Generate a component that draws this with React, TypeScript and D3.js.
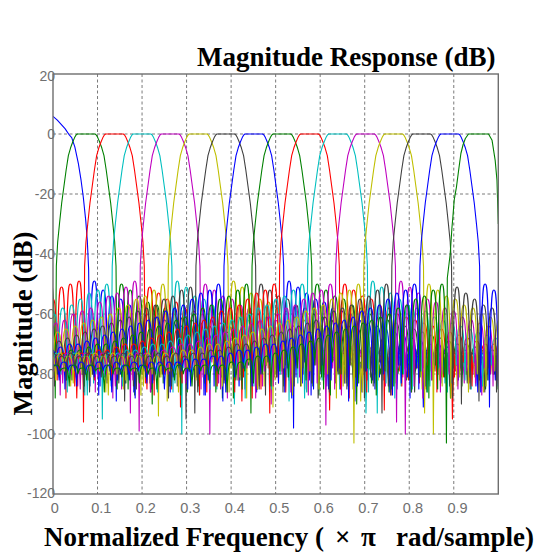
import React from 'react';
import * as d3 from 'd3';

const W = 535;
const H = 552;

// axis ticks
const xTickValues = [0, 0.1, 0.2, 0.3, 0.4, 0.5, 0.6, 0.7, 0.8, 0.9];
const xTickLabels = ['0', '0.1', '0.2', '0.3', '0.4', '0.5', '0.6', '0.7', '0.8', '0.9'];
const yTickValues = [20, 0, -20, -40, -60, -80, -100, -120];
const xGridValues = [0.1, 0.2, 0.3, 0.4, 0.5, 0.6, 0.7, 0.8, 0.9];
const yGridValues = [0, -20, -40, -60, -80, -100];

// 16 bands of the filter bank (MATLAB colour order b g r c m y k)
const seriesColors = [
  '#0000ff', '#008000', '#ff0000', '#00bfbf', '#bf00bf', '#bfbf00', '#404040',
  '#0000ff', '#008000', '#ff0000', '#00bfbf', '#bf00bf', '#bfbf00', '#404040',
  '#0000ff', '#008000',
];
const bandCenters = [
  0.0135, 0.0745, 0.138, 0.2, 0.263, 0.326, 0.388, 0.451,
  0.514, 0.576, 0.639, 0.702, 0.765, 0.828, 0.891, 0.953,
];

// passband shape (offset from band centre, dB)
const mainLobeOffset = [0, 0.02, 0.023, 0.026, 0.03, 0.035, 0.04, 0.045, 0.05, 0.055, 0.06, 0.064, 0.067];
const mainLobeDb = [0, 0, -0.4, -1.2, -2.6, -4.6, -7.2, -12, -17.5, -23, -30, -36, -44];

// first band (starts at +6 dB at f = 0)
const firstBandF = [0, 0.0097, 0.027, 0.037, 0.042, 0.049, 0.057, 0.063, 0.068, 0.0735, 0.077, 0.08];
const firstBandDb = [5.9, 4.6, 1.8, -0.4, -1.2, -4.3, -9.9, -15.4, -21, -28.8, -35.4, -45];
// last band (drops at f = 1)
const lastBandF = [0.8855, 0.892, 0.896, 0.898, 0.901, 0.906, 0.911, 0.916, 0.921, 0.926, 0.933, 0.978, 0.986, 0.993, 0.997, 1.0];
const lastBandDb = [-48, -40, -31, -27.7, -22, -17.7, -12, -6.5, -3.5, -1.5, 0, 0, -2.1, -8.8, -15.4, -30];

// stopband lobes, read outward from each passband: [null0, peak0, null1, peak1, ...] (dB)
const NULL0 = 0.0695;
const LOBE = 0.0197;

const leftLobes: number[][] = [
  [],
  [-88, -50, -84, -53, -86, -55, -83, -57],
  [-96, -49, -84, -50, -88, -51, -82, -55, -86, -55, -80, -57, -84, -58],
  [-84, -50, -95, -52, -83, -53, -87, -55, -81, -57, -86, -58, -80, -60, -88, -61, -79, -62, -84, -63],
  [-99, -49, -93, -51, -85, -53, -88, -54, -81, -56, -86, -58, -79, -59, -84, -60, -80, -62, -87, -63, -78, -64, -83, -65, -77, -66],
  [-89, -50, -94, -52, -83, -54, -87, -55, -80, -57, -85, -58, -79, -60, -86, -61, -78, -62, -82, -63,
   -76, -64, -84, -65, -77, -66, -80, -67, -76, -68, -85, -69, -78, -70],
  [-93, -51, -95, -52, -84, -54, -88, -55, -81, -57, -86, -58, -80, -59, -84, -61, -89, -62, -79, -63,
   -83, -64, -77, -65, -86, -66, -78, -67, -82, -68, -77, -69, -84, -70, -78, -70, -81, -71, -85, -72],
  [-89, -50, -84, -52, -87, -53, -81, -55, -85, -57, -80, -58, -86, -59, -79, -61, -83, -62, -78, -63,
   -88, -64, -77, -65, -82, -66, -76, -67, -84, -68, -77, -69, -80, -70, -78, -70, -85, -71, -78, -72,
   -81, -72, -79, -73, -84, -73],
  [-93, -50, -85, -52, -88, -54, -81, -55, -86, -57, -80, -58, -84, -60, -79, -61, -87, -62, -78, -63,
   -83, -64, -77, -65, -81, -66, -76, -67, -85, -68, -77, -69, -82, -70, -78, -70, -80, -71, -84, -72,
   -79, -72, -82, -73, -80, -73, -86, -74, -80, -73, -83, -74],
  [-83, -50, -93, -52, -85, -53, -88, -55, -81, -57, -86, -58, -80, -59, -84, -61, -79, -62, -87, -63,
   -78, -64, -83, -65, -77, -66, -80, -67, -76, -68, -85, -69, -78, -70, -81, -70, -77, -71, -84, -72,
   -79, -72, -82, -73, -80, -73, -88, -74, -79, -73, -81, -74, -80, -73, -84, -74, -79, -73],
  [-86, -50, -83, -52, -89, -54, -80, -55, -85, -57, -79, -58, -84, -60, -88, -61, -78, -62, -82, -63,
   -77, -64, -85, -65, -76, -66, -81, -67, -78, -68, -83, -69, -77, -70, -86, -70, -78, -71, -80, -72,
   -79, -72, -84, -73, -78, -73, -81, -74, -80, -73, -87, -74, -79, -73, -82, -74, -80, -73, -83, -74,
   -79, -73, -81, -74],
  [-85, -50, -97, -52, -83, -53, -87, -55, -81, -57, -86, -58, -80, -60, -84, -61, -79, -62, -88, -63,
   -78, -64, -82, -65, -77, -66, -85, -67, -76, -68, -81, -69, -78, -70, -83, -70, -77, -71, -80, -72,
   -79, -72, -86, -73, -78, -73, -82, -74, -79, -73, -84, -74, -80, -73, -81, -74, -79, -73, -85, -74,
   -80, -73, -83, -74, -79, -73, -81, -74, -80, -73, -84, -74],
  [-86, -50, -103, -52, -83, -53, -88, -55, -80, -57, -85, -58, -79, -59, -84, -61, -87, -62, -78, -63,
   -82, -64, -77, -65, -85, -66, -76, -67, -81, -68, -78, -69, -84, -70, -77, -70, -80, -71, -82, -72,
   -78, -72, -86, -73, -79, -73, -81, -74, -80, -73, -84, -74, -79, -73, -82, -74, -80, -73, -87, -74,
   -79, -73, -81, -74, -80, -73, -83, -74, -79, -73, -82, -74, -80, -73, -85, -74, -80, -73],
  [-87, -50, -93, -52, -84, -54, -88, -55, -81, -57, -85, -58, -80, -59, -86, -61, -79, -62, -83, -63,
   -78, -64, -84, -65, -77, -66, -81, -67, -76, -68, -85, -69, -78, -70, -82, -70, -77, -71, -83, -72,
   -78, -72, -80, -73, -86, -73, -79, -74, -81, -73, -84, -74, -80, -73, -82, -74, -79, -73, -85, -74,
   -80, -73, -83, -74, -79, -73, -81, -74, -80, -73, -86, -74, -79, -73, -82, -74, -80, -73, -84, -74,
   -79, -73, -81, -74],
  [-85, -50, -88, -52, -83, -53, -87, -55, -80, -57, -85, -58, -79, -59, -84, -61, -89, -62, -78, -63,
   -82, -64, -77, -65, -85, -66, -76, -67, -81, -68, -78, -69, -83, -70, -77, -70, -80, -71, -84, -72,
   -78, -72, -81, -73, -86, -74, -79, -74, -82, -75, -80, -75, -84, -75, -79, -76, -81, -76, -85, -76,
   -80, -76, -83, -77, -79, -76, -82, -77, -80, -76, -86, -77, -79, -76, -81, -77, -80, -76, -84, -77,
   -79, -76, -82, -77, -80, -76, -83, -77, -79, -76],
  [-103, -50, -85, -52, -88, -54, -81, -55, -86, -57, -80, -58, -84, -60, -79, -61, -87, -62, -78, -63,
   -83, -64, -77, -65, -80, -66, -76, -67, -85, -68, -77, -69, -82, -70, -78, -71, -81, -72, -79, -73,
   -84, -74, -80, -74, -83, -75, -79, -76, -82, -76, -86, -77, -80, -77, -83, -77, -79, -77, -84, -78,
   -80, -77, -82, -78, -79, -77, -85, -78, -80, -77, -83, -78, -79, -77, -81, -78, -80, -77, -86, -78,
   -79, -77, -82, -78, -80, -77, -84, -78, -79, -77, -82, -78, -80, -77, -83, -78],
];

const rightLobes: number[][] = [
  [-84, -49, -87, -52, -82, -54, -89, -55, -83, -57, -86, -58, -80, -60, -85, -61, -79, -62, -84, -63,
   -72, -64, -82, -65, -74, -66, -87, -67, -75, -68, -81, -69, -76, -70, -84, -70, -77, -71, -86, -72,
   -78, -72, -80, -73, -79, -73, -88, -74, -79, -74, -82, -74, -79, -75, -84, -74, -79, -75, -83, -74,
   -80, -75, -86, -74, -79, -74, -81, -73, -78, -73, -85, -74, -78, -73, -80, -74, -91, -73, -78, -74,
   -83, -73, -77, -73, -82, -74, -77, -73, -84, -74, -78, -73, -80, -74, -78, -73, -82, -74, -79, -73],
  [-85, -50, -83, -52, -87, -54, -81, -56, -90, -57, -80, -58, -84, -60, -78, -61, -86, -62, -77, -63,
   -83, -64, -75, -65, -88, -66, -76, -67, -82, -68, -77, -69, -85, -70, -77, -70, -80, -71, -84, -72,
   -78, -73, -82, -73, -79, -74, -87, -75, -79, -75, -81, -76, -80, -76, -85, -76, -79, -77, -83, -76,
   -80, -77, -86, -76, -80, -77, -82, -76, -79, -77, -84, -76, -80, -77, -81, -76, -88, -77, -80, -76,
   -82, -77, -79, -76, -85, -77, -80, -76, -83, -77, -80, -76, -82, -77],
  [-83, -51, -87, -53, -80, -55, -85, -56, -91, -58, -79, -59, -83, -60, -86, -62, -78, -63, -82, -64,
   -76, -65, -89, -66, -77, -67, -84, -67, -78, -68, -81, -69, -86, -70, -78, -70, -80, -71, -83, -72,
   -77, -72, -92, -72, -78, -73, -81, -73, -79, -74, -84, -74, -78, -73, -80, -74, -87, -74, -79, -74,
   -82, -73, -78, -74, -85, -73, -79, -74, -81, -73, -95, -74, -79, -73, -83, -74, -78, -73, -80, -74,
   -82, -73, -79, -74, -84, -73, -80, -74],
  [-86, -49, -100, -51, -82, -54, -87, -55, -80, -57, -85, -59, -79, -60, -90, -61, -78, -62, -83, -63,
   -76, -64, -86, -65, -77, -66, -81, -67, -75, -68, -88, -69, -77, -69, -82, -70, -78, -71, -85, -72,
   -77, -72, -80, -72, -93, -73, -78, -73, -82, -74, -79, -73, -84, -74, -78, -73, -81, -74, -86, -73,
   -79, -74, -83, -73, -78, -74, -80, -73, -85, -74, -79, -73, -82, -74, -80, -73, -84, -74, -79, -73,
   -81, -74],
  [-85, -50, -100, -52, -83, -54, -88, -55, -80, -57, -85, -58, -79, -60, -84, -61, -90, -62, -78, -63,
   -82, -64, -76, -65, -85, -66, -77, -67, -81, -68, -78, -69, -87, -70, -77, -70, -80, -71, -82, -71,
   -78, -72, -84, -73, -79, -73, -81, -74, -86, -73, -79, -74, -82, -73, -80, -74, -85, -73, -79, -74,
   -83, -73, -80, -74, -87, -73, -80, -74, -84, -73, -80, -74, -83, -73],
  [-86, -49, -82, -51, -88, -53, -80, -55, -84, -56, -91, -58, -79, -59, -83, -61, -78, -62, -86, -63,
   -77, -64, -81, -65, -76, -66, -84, -67, -77, -68, -89, -69, -78, -70, -82, -70, -79, -71, -83, -72,
   -78, -72, -80, -73, -85, -73, -79, -74, -82, -73, -79, -74, -84, -73, -80, -74, -81, -73, -86, -74,
   -80, -73, -82, -74, -79, -73, -83, -74],
  [-84, -50, -87, -52, -81, -54, -86, -55, -80, -57, -84, -58, -79, -60, -88, -61, -78, -62, -83, -63,
   -77, -64, -85, -65, -78, -66, -81, -67, -76, -68, -84, -69, -77, -70, -80, -70, -86, -71, -78, -72,
   -82, -72, -79, -73, -84, -73, -80, -74, -83, -73, -79, -74, -86, -73, -80, -74, -82, -73, -79, -74,
   -84, -73],
  [-86, -49, -98, -51, -83, -53, -87, -55, -80, -56, -85, -58, -79, -59, -83, -60, -89, -62, -78, -63,
   -82, -64, -76, -65, -86, -66, -77, -67, -81, -68, -78, -69, -84, -70, -77, -70, -80, -71, -83, -72,
   -78, -72, -81, -73, -86, -73, -79, -74, -82, -73, -80, -74, -84, -73, -79, -74],
  [-84, -50, -81, -52, -87, -54, -80, -55, -84, -57, -90, -58, -79, -60, -83, -61, -78, -62, -85, -63,
   -77, -64, -82, -65, -76, -66, -86, -67, -77, -68, -81, -69, -78, -70, -84, -70, -79, -71, -82, -72,
   -78, -72, -85, -73, -79, -73, -81, -74, -80, -73],
  [-85, -50, -88, -52, -81, -54, -86, -55, -80, -57, -92, -58, -79, -60, -84, -61, -78, -62, -83, -63,
   -77, -64, -86, -65, -78, -66, -81, -67, -76, -68, -84, -69, -77, -70, -80, -70, -83, -71, -78, -72,
   -81, -72],
  [-86, -49, -93, -51, -83, -53, -88, -55, -80, -57, -85, -58, -79, -59, -84, -61, -78, -62, -86, -63,
   -77, -64, -82, -65, -76, -66, -84, -67, -77, -68, -85, -69, -78, -70, -84, -70],
  [-96, -49, -100, -51, -84, -53, -88, -55, -82, -56, -86, -58, -80, -59, -85, -61, -79, -62, -83, -63,
   -78, -64, -84, -65, -77, -66, -82, -67, -85, -68],
  [-93, -50, -100, -52, -84, -54, -88, -55, -81, -57, -86, -58, -80, -60, -84, -61, -79, -62, -85, -63,
   -78, -64, -83, -65],
  [-88, -51, -90, -53, -85, -55, -89, -57, -82, -58, -86, -60, -81, -61, -84, -62, -80, -63],
  [-86, -50, -91, -52, -84, -54, -88, -56, -83, -57, -86, -58],
  [],
];

type Node = { f: number; db: number; kind: 'n' | 'p' | 'm' };

const x = d3.scaleLinear().domain([0, 1]).range([53, 498.3]);
const y = d3.scaleLinear().domain([-120, 20]).range([494, 74]);

function buildNodes(k: number): Node[] {
  const c = bandCenters[k];
  const left: Node[] = [];
  const L = leftLobes[k];
  for (let m = 0; 2 * m < L.length; m++) {
    const fn = c - NULL0 - m * LOBE;
    if (fn < -LOBE) break;
    left.push({ f: fn, db: L[2 * m], kind: 'n' });
    if (2 * m + 1 < L.length) left.push({ f: fn - LOBE / 2, db: L[2 * m + 1], kind: 'p' });
  }
  left.reverse();

  const main: Node[] = [];
  if (k === 0) {
    firstBandF.forEach((f, i) => main.push({ f, db: firstBandDb[i], kind: 'm' }));
  } else if (k === bandCenters.length - 1) {
    lastBandF.forEach((f, i) => main.push({ f, db: lastBandDb[i], kind: 'm' }));
  } else {
    for (let i = mainLobeOffset.length - 1; i >= 1; i--) {
      main.push({ f: c - mainLobeOffset[i], db: mainLobeDb[i], kind: 'm' });
    }
    for (let i = 0; i < mainLobeOffset.length; i++) {
      main.push({ f: c + mainLobeOffset[i], db: mainLobeDb[i], kind: 'm' });
    }
  }

  const right: Node[] = [];
  const R = rightLobes[k];
  for (let m = 0; 2 * m < R.length; m++) {
    const fn = c + NULL0 + m * LOBE;
    if (fn > 1 + LOBE) break;
    right.push({ f: fn, db: R[2 * m], kind: 'n' });
    if (2 * m + 1 < R.length) right.push({ f: fn + LOBE / 2, db: R[2 * m + 1], kind: 'p' });
  }
  return [...left, ...main, ...right];
}

function pathFor(nodes: Node[]): string {
  const p = d3.path();
  nodes.forEach((nd, i) => {
    const X = x(nd.f);
    const Y = y(nd.db);
    if (i === 0) {
      p.moveTo(X, Y);
      return;
    }
    const a = nodes[i - 1];
    const X0 = x(a.f);
    const Y0 = y(a.db);
    const dx = X - X0;
    if (a.kind === 'n' && nd.kind === 'p') {
      p.bezierCurveTo(X0 + 0.2 * dx, Y, X0 + 0.6 * dx, Y, X, Y);
    } else if (a.kind === 'p' && nd.kind === 'n') {
      p.bezierCurveTo(X0 + 0.4 * dx, Y0, X0 + 0.8 * dx, Y0, X, Y);
    } else {
      p.lineTo(X, Y);
    }
  });
  return p.toString();
}

const SERIF = '"Liberation Serif", "Times New Roman", Times, serif';
const SANS = '"Liberation Sans", Arial, Helvetica, sans-serif';

export default function App() {
  const [x0, x1] = x.range();
  const [y0, y1] = y.range();
  const paths = bandCenters.map((_, k) => pathFor(buildNodes(k)));
  return (
    <svg
      width={W}
      height={H}
      viewBox={`0 0 ${W} ${H}`}
      style={{ position: 'absolute', left: 0, top: 0, background: '#ffffff' }}
    >
      <defs>
        <clipPath id="plotClip">
          <rect x={x0} y={y1} width={x1 - x0} height={y0 - y1} />
        </clipPath>
      </defs>
      <rect x={0} y={0} width={W} height={H} fill="#ffffff" />

      {/* y tick labels */}
      {yTickValues.map((v) => (
        <text
          key={`yt${v}`}
          x={55}
          y={y(v) + (v === 20 ? 1.5 : v === -120 ? -1.5 : 0)}
          textAnchor="end"
          dominantBaseline="central"
          fontFamily={SANS}
          fontSize={14}
          fill="#707070"
        >
          {v}
        </text>
      ))}
      {/* x tick labels */}
      {xTickValues.map((v, i) => (
        <text
          key={`xt${v}`}
          x={x(v) + (i === 0 ? 1.7 : 3.7)}
          y={i === 0 ? 513 : 513.3}
          textAnchor="middle"
          fontFamily={SANS}
          fontSize={14.5}
          fill="#707070"
        >
          {xTickLabels[i]}
        </text>
      ))}

      {/* grid */}
      {xGridValues.map((v) => (
        <line key={`xg${v}`} x1={x(v)} x2={x(v)} y1={y1} y2={y0} stroke="#7a7a7a" strokeWidth={1} strokeDasharray="3,2.5" />
      ))}
      {yGridValues.map((v) => (
        <line key={`yg${v}`} x1={x0} x2={x1} y1={y(v)} y2={y(v)} stroke="#7a7a7a" strokeWidth={1} strokeDasharray="3,2.5" />
      ))}

      {/* responses */}
      <g clipPath="url(#plotClip)">
        {paths.map((d, k) => (
          <path key={`s${k}`} d={d} fill="none" stroke={seriesColors[k]} strokeWidth={1.1} strokeLinejoin="round" />
        ))}
      </g>

      {/* axes box */}
      <rect x={x0} y={y1} width={x1 - x0} height={y0 - y1} fill="none" stroke="#6e6e6e" strokeWidth={1.4} />

      {/* title */}
      <text x={197} y={66} fontFamily={SERIF} fontWeight="bold" fontSize={27} fill="#000">
        Magnitude Response (dB)
      </text>
      {/* x label */}
      <text y={546} fontFamily={SERIF} fontWeight="bold" fontSize={27} fill="#000">
        <tspan x={44}>Normalized Frequency (</tspan>
        <tspan x={335}>×</tspan>
        <tspan x={361}>π</tspan>
        <tspan x={396}>rad/sample)</tspan>
      </text>
      {/* y label */}
      <text
        transform="translate(31.7, 323.5) rotate(-90)"
        textAnchor="middle"
        fontFamily={SERIF}
        fontWeight="bold"
        fontSize={27}
        fill="#000"
      >
        Magnitude (dB)
      </text>
    </svg>
  );
}
